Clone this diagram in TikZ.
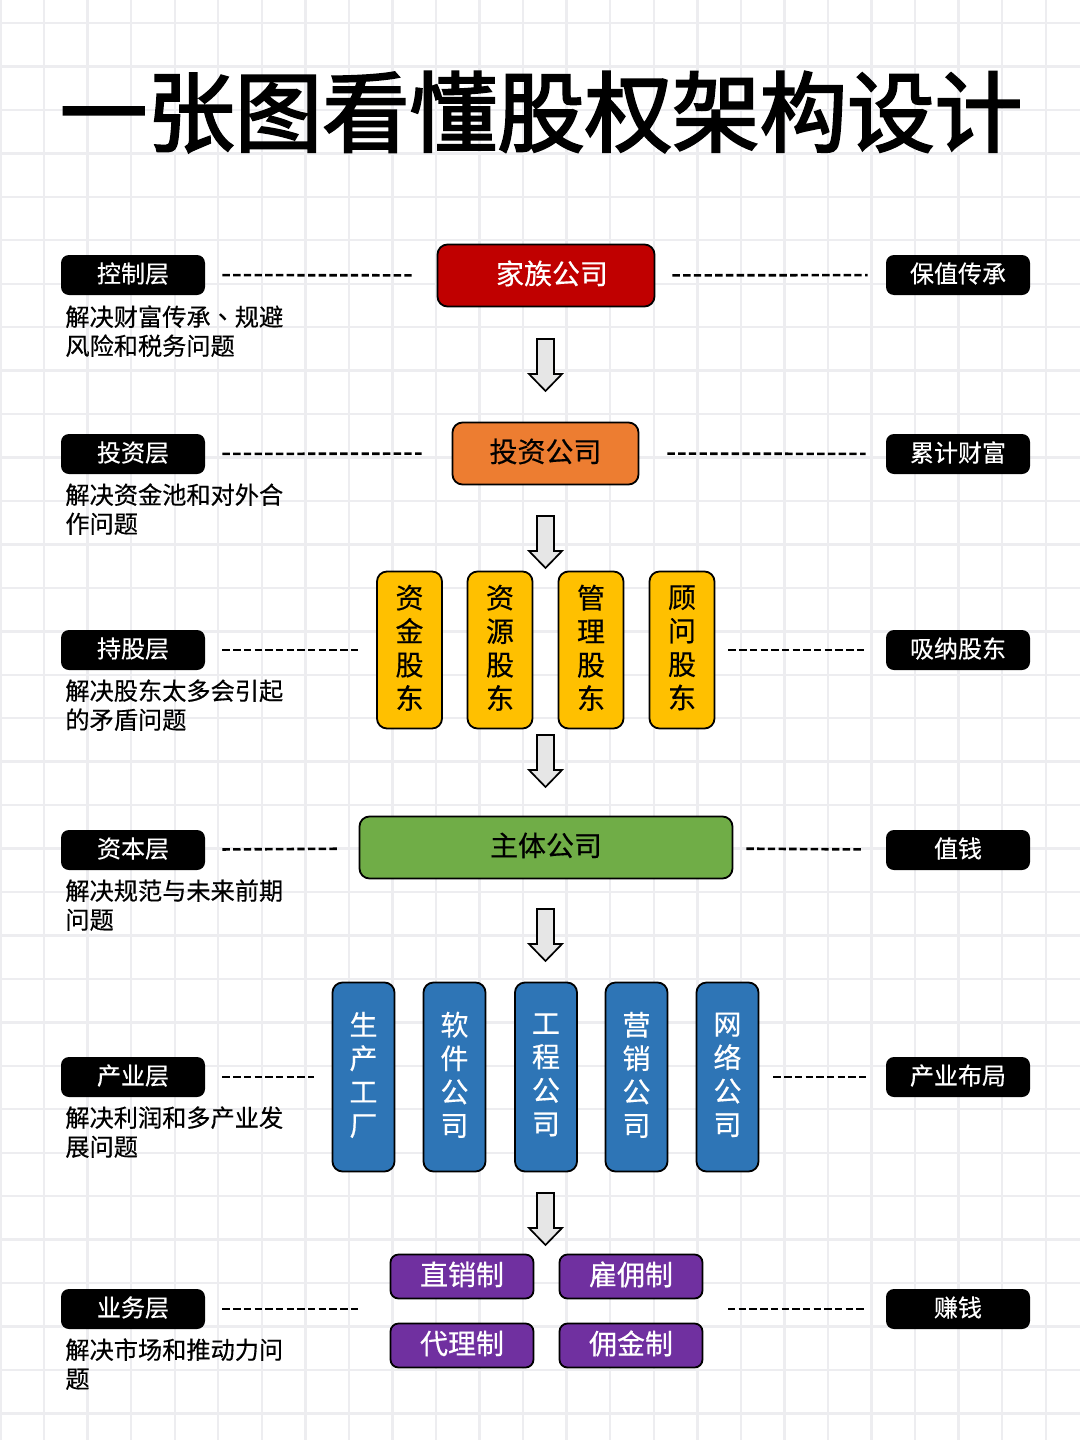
\documentclass[tikz,border=0pt]{standalone}
\usepackage{fontspec}
\setmainfont[FakeBold=0.4]{Noto Sans CJK SC}
\newfontfamily\titlefont[FakeBold=2.5]{Noto Sans CJK SC}
\newfontfamily\tcfont[FakeBold=0.4]{Noto Sans CJK TC}
\definecolor{gridgray}{HTML}{EDEDF0}
\definecolor{arrowgray}{HTML}{E6E6E6}
\definecolor{famred}{HTML}{C00000}
\definecolor{invorange}{HTML}{ED7D31}
\definecolor{holdyellow}{HTML}{FFC000}
\definecolor{maingreen}{HTML}{70AD47}
\definecolor{indblue}{HTML}{2E75B6}
\definecolor{bizpurple}{HTML}{7030A0}
\tikzset{
  tag/.style={fill=black,text=white,rounded corners=4pt,minimum width=72pt,minimum height=20pt,inner sep=0pt,align=center,font=\fontsize{12}{12}\selectfont,text depth=2.5pt},
  note/.style={anchor=north west,align=left,inner sep=0pt,font=\fontsize{12.1}{14.5}\selectfont},
  unit/.style={draw=black,line width=0.9pt,rounded corners=5pt,inner sep=0pt,font=\fontsize{14}{16.75}\selectfont,align=center,text depth=3.2pt},
  dashlink/.style={line width=1.3pt,dash pattern=on 3.7pt off 1.65pt,shorten <=8.5pt,shorten >=10pt},
  downarrow/.style={draw=black,line width=0.85pt,fill=arrowgray,line join=miter}
}
\newcommand{\blockarrow}[1]{\draw[downarrow] (537,#1) -- (554,#1) -- (554,#1+35) -- (562,#1+35) -- (545.5,#1+52) -- (529,#1+35) -- (537,#1+35) -- cycle;}
\begin{document}
\begin{tikzpicture}[x=0.5pt,y=-0.5pt]
  \useasboundingbox (0,0) rectangle (1080,1440);
  \fill[white] (0,0) rectangle (1080,1440);

% grid paper
  \foreach \i in {0,...,24} {
    \draw[gridgray,line width=1.2pt] (0.5+43.55*\i,0) -- (0.5+43.55*\i,1440);
  }
  \foreach \i in {0,...,32} {
    \draw[gridgray,line width=1.2pt] (0,23+43.45*\i) -- (1080,23+43.45*\i);
  }

% title
  \node[inner sep=0pt,font=\fontsize{43.75}{44}\selectfont\titlefont] (title) at (541,112) {一张图看懂股权架构设计};

% layer tags on the left
  \node[tag] (ctrl) at (133,275) {控制层};
  \node[tag] (inv) at (133,454) {投资层};
  \node[tag] (hold) at (133,650) {持股层};
  \node[tag] (cap) at (133,850) {资本层};
  \node[tag] (ind) at (133,1077) {产业层};
  \node[tag] (biz) at (133,1309) {业务层};

% layer notes
  \node[note] (ctrlnote) at (65,305) {解决财富传承{\tcfont 、}规避\\风险和税务问题};
  \node[note] (invnote) at (65,483) {解决资金池和对外合\\作问题};
  \node[note] (holdnote) at (65,679) {解决股东太多会引起\\的矛盾问题};
  \node[note] (capnote) at (65,879) {解决规范与未来前期\\问题};
  \node[note] (indnote) at (65,1106) {解决利润和多产业发\\展问题};
  \node[note] (biznote) at (65,1338) {解决市场和推动力问\\题};

% goal tags on the right
  \node[tag] (ctrlgoal) at (958,275) {保值传承};
  \node[tag] (invgoal) at (958,454) {累计财富};
  \node[tag] (holdgoal) at (958,650) {吸纳股东};
  \node[tag] (capgoal) at (958,850) {值钱};
  \node[tag] (indgoal) at (958,1077) {产业布局};
  \node[tag] (bizgoal) at (958,1309) {赚钱};

% companies
  \node[unit,fill=famred,text=white,minimum width=108.5pt,minimum height=31pt] (family) at (546,275.5) {\hspace*{6pt}家族公司};
  \node[unit,fill=invorange,minimum width=93pt,minimum height=31pt] (invest) at (545.5,453.5) {投资公司};
  \node[unit,fill=maingreen,minimum width=186.5pt,minimum height=31pt] (main) at (546,847.5) {主体公司};

% shareholders
  \foreach \name/\xpos/\txt in {fund/409.5/资\\金\\股\\东,res/500/资\\源\\股\\东,mgr/591/管\\理\\股\\东,adv/682/顾\\问\\股\\东} {
    \node[unit,fill=holdyellow,minimum width=32.5pt,minimum height=78.5pt] (\name) at (\xpos,650) {\txt};
  }

% operating companies
  \foreach \name/\xpos/\txt in {plant/363.5/生\\产\\工\\厂,soft/454.5/软\\件\\公\\司,eng/546/工\\程\\公\\司,mkt/636.5/营\\销\\公\\司,net/727.5/网\\络\\公\\司} {
    \node[unit,fill=indblue,text=white,minimum width=31pt,minimum height=94.5pt] (\name) at (\xpos,1077) {\txt};
  }

% sales models
  \tikzset{sale/.style={unit,fill=bizpurple,text=white,rounded corners=4pt,minimum width=71.5pt,minimum height=22pt}}
  \node[sale] (direct) at (462,1276.5) {直销制};
  \node[sale] (hire) at (631,1276.5) {雇佣制};
  \node[sale] (agent) at (462,1345.5) {代理制};
  \node[sale] (comm) at (631,1345.5) {佣金制};

% free ends in the sales row
  \coordinate (bizleft) at (369,1309);
  \coordinate (bizright) at (718,1309);

% dashed links
  \draw[dashlink,shorten >=11pt] (ctrl) -- (family);
  \draw[dashlink,shorten >=9pt] (family) -- (ctrlgoal);
  \draw[dashlink,shorten >=15pt] (inv) -- (invest);
  \draw[dashlink,shorten <=14pt] (invest) -- (invgoal);
  \draw[dashlink,shorten >=8.5pt] (hold) -- (fund);
  \draw[dashlink,shorten <=6.5pt] (adv) -- (holdgoal);
  \draw[dashlink,shorten >=9.5pt] (cap) -- (main);
  \draw[dashlink,shorten <=6.5pt,shorten >=12pt] (main) -- (capgoal);
  \draw[dashlink,shorten >=9pt] (ind) -- (plant);
  \draw[dashlink,shorten <=7pt] (net) -- (indgoal);
  \draw[dashlink,shorten >=5pt] (biz) -- (bizleft);
  \draw[dashlink,shorten <=5pt] (bizright) -- (bizgoal);

% arrows between layers
  \blockarrow{339}
  \blockarrow{516}
  \blockarrow{735}
  \blockarrow{909}
  \blockarrow{1193}

\end{tikzpicture}
\end{document}
